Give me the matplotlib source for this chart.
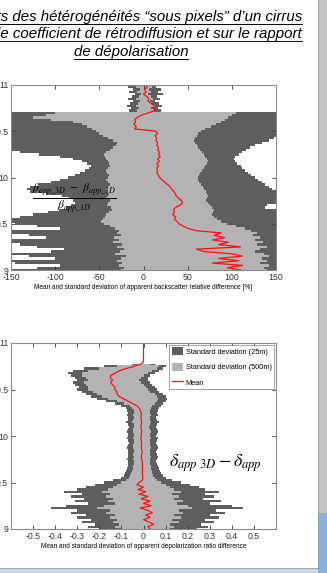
import matplotlib
matplotlib.use("Agg")
import numpy as np
from matplotlib import pyplot as plt
from matplotlib.patches import Rectangle
from matplotlib.lines import Line2D

plt.rcParams['axes.unicode_minus'] = False
nan = np.nan

# altitude grid (km), top to bottom, 25 m steps
alt = [11.000, 10.975, 10.950, 10.925, 10.900, 10.875, 10.850, 10.825, 10.800,
       10.775, 10.750, 10.725, 10.700, 10.675, 10.650, 10.625, 10.600, 10.575,
       10.550, 10.525, 10.500, 10.475, 10.450, 10.425, 10.400, 10.375, 10.350,
       10.325, 10.300, 10.275, 10.250, 10.225, 10.200, 10.175, 10.150, 10.125,
       10.100, 10.075, 10.050, 10.025, 10.000, 9.975, 9.950, 9.925, 9.900,
       9.875, 9.850, 9.825, 9.800, 9.775, 9.750, 9.725, 9.700, 9.675, 9.650,
       9.625, 9.600, 9.575, 9.550, 9.525, 9.500, 9.475, 9.450, 9.425, 9.400,
       9.375, 9.350, 9.325, 9.300, 9.275, 9.250, 9.225, 9.200, 9.175, 9.150,
       9.125, 9.100, 9.075, 9.050, 9.025, 9.000]

# backscatter relative difference [%]
bsc_mean = [2, 4, 1, 3, 0, 4, 6, 5, 9, 12, 11, 13, 6, -2, -7, -10, -9, -11,
            -8, -10, 14, 16, 13, 15, 14, 16, 15, 17, 16, 18, 17, 19, 16, 18,
            15, 17, 15, 16, 15, 17, 18, 21, 24, 27, 30, 32, 34, 36, 37, 40,
            43, 44, 41, 36, 34, 35, 33, 36, 35, 38, 40, 45, 50, 60, 88, 80,
            92, 78, 96, 85, 110, 60, 68, 100, 112, 85, 108, 78, 112, 95, 110]
bsc_25_lo = [-14, -18, -12, -16, -10, -13, -17, -12, -15, -19, -14, -16,
             -150, -150, -150, -150, -150, -150, -150, -150, -150, -150,
             -150, -150, -150, -150, -150, -150, -150, -140, -118, -95, -80,
             -70, -64, -60, -62, -66, -72, -78, -86, -95, -105, -118, -128,
             -132, -128, -110, -92, -84, -80, -78, -82, -88, -96, -108, -125,
             -140, -150, -150, -145, -120, -95, -150, -150, -130, -110, -150,
             -150, -140, -120, -90, -105, -150, -130, -100, -150, -145, -95,
             -120, -150]
bsc_25_hi = [18, 14, 20, 16, 22, 15, 19, 13, 17, 21, 16, 20,
             150, 150, 150, 150, 150, 150, 150, 150, 150, 150, 150, 148,
             142, 134, 126, 120, 116, 112, 108, 104, 102, 104, 106, 110,
             112, 115, 118, 122, 126, 130, 134, 138, 142, 146, 150, 150,
             150, 150, 150, 150, 140, 138, 150, 150, 150, 150, 150, 150,
             150, 150, 150, 150, 150, 150, 150, 150, 150, 150, 150, 150,
             150, 150, 150, 150, 150, 150, 150, 150, 150]
bsc_500_lo = [-6, -8, -4, -7, -3, -5, -8, -4, -6, -9, -5, -7,
              -100, -110, -125, -105, -80, -70, -64, -58, -54, -50, -46, -40,
              -34, -30, -31, -34, -38, -42, -45, -44, -42, -40, -39, -38,
              -40, -42, -41, -39, -40, -42, -40, -38, -40, -43, -41, -39,
              -40, -42, -38, -40, -41, -37, -36, -39, -42, -44, -46, -48,
              -45, -38, -32, -28, -30, -26, -33, -28, -35, -24, -30, -22,
              -27, -32, -20, -26, -30, -24, -28, -22, -26]
bsc_500_hi = [8, 10, 6, 9, 5, 8, 11, 7, 10, 13, 9, 12,
              105, 100, 96, 92, 88, 82, 76, 70, 65, 62, 60, 58,
              57, 58, 60, 62, 64, 66, 68, 70, 72, 73, 72, 70,
              68, 66, 64, 63, 62, 62, 63, 65, 67, 69, 71, 72,
              73, 72, 71, 73, 75, 78, 80, 79, 78, 80, 83, 88,
              95, 105, 115, 122, 128, 124, 132, 126, 135, 128, 140, 132,
              126, 136, 142, 134, 140, 132, 142, 136, 140]

# depolarization ratio difference
dep_mean = [0, 0, 0, 0, 0, 0, 0, 0, 0,
            -0.01, -0.04, -0.08, -0.11, -0.13, -0.15, -0.15, -0.14, -0.15,
            -0.14, -0.13, -0.13, -0.12, -0.12, -0.11, -0.09, -0.07, -0.05,
            -0.03, -0.02, -0.015, -0.01, -0.01, -0.012, -0.01, -0.008, -0.01,
            -0.012, -0.01, -0.008, -0.01, -0.01, -0.012, -0.01, -0.008, -0.01,
            -0.01, -0.008, -0.006, -0.008, -0.01, -0.008, -0.006, -0.005, -0.006,
            -0.004, -0.005, -0.006, -0.004, -0.003, -0.005, -0.02, -0.03, 0.0,
            -0.025, 0.01, -0.02, 0.02, -0.01, 0.03, 0.0, 0.035, -0.015, 0.02,
            0.04, 0.01, 0.03, 0.0, 0.025, 0.045, 0.02, 0.03]
dep_25_lo = [nan, nan, nan, nan, nan, nan, nan, nan, nan,
             -0.05, -0.18, -0.27, -0.32, -0.34, -0.33, -0.31, -0.30, -0.32,
             -0.31, -0.29, -0.30, -0.28, -0.26, -0.24, -0.21, -0.17, -0.13,
             -0.10, -0.08, -0.075, -0.07, -0.075, -0.068, -0.072, -0.078, -0.07,
             -0.065, -0.072, -0.076, -0.07, -0.068, -0.074, -0.07, -0.066, -0.072,
             -0.075, -0.07, -0.068, -0.072, -0.07, -0.074, -0.068, -0.07, -0.072,
             -0.076, -0.08, -0.085, -0.09, -0.10, -0.14, -0.18, -0.22, -0.26,
             -0.30, -0.36, -0.28, -0.33, -0.27, -0.31, -0.25, -0.35, -0.42, -0.30,
             -0.33, -0.26, -0.30, -0.24, -0.28, -0.22, -0.25, -0.20]
dep_25_hi = [nan, nan, nan, nan, nan, nan, nan, nan, nan,
             0.05, 0.10, 0.09, 0.07, 0.05, 0.03, 0.02, 0.02, 0.03,
             0.04, 0.05, 0.06, 0.07, 0.09, 0.10, 0.105, 0.10, 0.09,
             0.08, 0.07, 0.065, 0.06, 0.065, 0.058, 0.062, 0.068, 0.06,
             0.056, 0.063, 0.066, 0.06, 0.058, 0.064, 0.06, 0.057, 0.062,
             0.066, 0.06, 0.058, 0.061, 0.064, 0.06, 0.058, 0.062, 0.066,
             0.07, 0.075, 0.08, 0.09, 0.10, 0.13, 0.17, 0.21, 0.25,
             0.28, 0.34, 0.28, 0.32, 0.27, 0.35, 0.30, 0.40, 0.45, 0.33,
             0.37, 0.30, 0.34, 0.28, 0.32, 0.26, 0.29, 0.24]
dep_500_lo = [nan, nan, nan, nan, nan, nan, nan, nan, nan,
              -0.03, -0.12, -0.20, -0.25, -0.28, -0.28, -0.26, -0.25, -0.27,
              -0.26, -0.25, -0.25, -0.23, -0.21, -0.19, -0.16, -0.12, -0.09,
              -0.06, -0.05, -0.045, -0.045, -0.048, -0.044, -0.046, -0.05, -0.045,
              -0.042, -0.046, -0.048, -0.045, -0.044, -0.047, -0.045, -0.043, -0.046,
              -0.048, -0.045, -0.044, -0.046, -0.045, -0.047, -0.044, -0.045, -0.046,
              -0.048, -0.05, -0.055, -0.06, -0.065, -0.08, -0.10, -0.12, -0.14,
              -0.16, -0.19, -0.15, -0.17, -0.14, -0.16, -0.13, -0.18, -0.21, -0.15,
              -0.17, -0.13, -0.15, -0.12, -0.14, -0.11, -0.13, -0.10]
dep_500_hi = [nan, nan, nan, nan, nan, nan, nan, nan, nan,
              0.03, 0.07, 0.06, 0.04, 0.02, 0.0, -0.01, -0.02, -0.01,
              0.0, 0.01, 0.02, 0.03, 0.05, 0.06, 0.065, 0.06, 0.05,
              0.04, 0.035, 0.03, 0.03, 0.032, 0.028, 0.03, 0.034, 0.03,
              0.027, 0.031, 0.033, 0.03, 0.028, 0.032, 0.03, 0.029, 0.031,
              0.033, 0.03, 0.028, 0.03, 0.032, 0.03, 0.029, 0.031, 0.033,
              0.035, 0.038, 0.04, 0.045, 0.05, 0.06, 0.08, 0.10, 0.12,
              0.14, 0.17, 0.13, 0.16, 0.14, 0.18, 0.15, 0.20, 0.22, 0.16,
              0.18, 0.14, 0.17, 0.13, 0.16, 0.12, 0.14, 0.12]

DARK = '#5e5e5e'
LIGHT = '#b3b3b3'
RED = '#ff1010'
NARROW = ['Liberation Sans Narrow', 'Liberation Sans', 'DejaVu Sans']
ARIAL = ['Liberation Sans', 'DejaVu Sans']

W, H = 327, 573
fig = plt.figure(figsize=(W / 100, H / 100), dpi=100)
fig.patch.set_facecolor('white')


def px_axes(x0, y0, x1, y1):
    """Axes from pixel box (top-left origin)."""
    return fig.add_axes([x0 / W, 1 - y1 / H, (x1 - x0) / W, (y1 - y0) / H])


def style_axes(ax):
    ax.tick_params(direction='in', length=3, width=0.6, top=True, right=True,
                   labelsize=6.3, pad=2, colors='#333333')
    for lab in ax.get_xticklabels() + ax.get_yticklabels():
        lab.set_family(NARROW)
    for sp in ax.spines.values():
        sp.set_color('#8a8a8a')
        sp.set_linewidth(0.8)


# top panel: backscatter
ax1 = px_axes(11, 85, 276, 270)
ax1.fill_betweenx(alt, bsc_25_lo, bsc_25_hi, color=DARK, lw=0, step='mid')
ax1.fill_betweenx(alt, bsc_500_lo, bsc_500_hi, color=LIGHT, lw=0, step='mid')
ax1.plot(bsc_mean, alt, color=RED, lw=0.9)
ax1.set_xlim(-150, 150)
ax1.set_ylim(9, 11)
ax1.set_xticks([-150, -100, -50, 0, 50, 100, 150])
ax1.set_yticks([9, 9.5, 10, 10.5, 11])
ax1.set_yticklabels(['9', '9.5', '10', '10.5', '11'])
style_axes(ax1)
ax1.set_xlabel('Mean and standard deviation of apparent backscatter relative difference [%]',
               fontsize=4.7, family=NARROW, labelpad=1.5)
ax1.text(0.24, 0.39,
         r'$\frac{\beta_{app\_3D}\ -\ \beta_{app\_1D}}{\beta_{app\_1D}}$',
         transform=ax1.transAxes, ha='center', va='center', fontsize=12,
         math_fontfamily='stix')

# bottom panel: depolarization
ax2 = px_axes(11, 343, 276, 529)
ax2.fill_betweenx(alt, dep_25_lo, dep_25_hi, color=DARK, lw=0, step='mid',
                  label='Standard deviation (25m)')
ax2.fill_betweenx(alt, dep_500_lo, dep_500_hi, color=LIGHT, lw=0, step='mid',
                  label='Standard deviation (500m)')
ax2.plot(dep_mean, alt, color=RED, lw=0.9, label='Mean')
ax2.set_xlim(-0.6, 0.6)
ax2.set_ylim(9, 11)
ax2.set_xticks([-0.5, -0.4, -0.3, -0.2, -0.1, 0, 0.1, 0.2, 0.3, 0.4, 0.5])
ax2.set_xticklabels(['-0.5', '-0.4', '-0.3', '-0.2', '-0.1', '0',
                     '0.1', '0.2', '0.3', '0.4', '0.5'])
ax2.set_yticks([9, 9.5, 10, 10.5, 11])
ax2.set_yticklabels(['9', '9.5', '10', '10.5', '11'])
style_axes(ax2)
ax2.set_xlabel('Mean and standard deviation of apparent depolarization ratio difference',
               fontsize=4.7, family=NARROW, labelpad=1.5)
leg = ax2.legend(loc='upper right', frameon=True, fancybox=False,
                 borderaxespad=0.25, handlelength=1.6, handleheight=1.25,
                 labelspacing=0.95, borderpad=0.35, handletextpad=0.3,
                 prop={'family': NARROW, 'size': 5.3})
leg.get_frame().set_edgecolor('#777777')
leg.get_frame().set_linewidth(0.6)
ax2.text(0.77, 0.355, r'$\delta_{app\ 3D} - \delta_{app}$',
         transform=ax2.transAxes, ha='center', va='center', fontsize=13,
         math_fontfamily='stix')

# slide title
t1 = fig.text(302 / W, 1 - 17 / H,
              'Effets des hétérogénéités \u201csous pixels\u201d d\u2019un cirrus',
              ha='right', va='center', fontsize=10.8, style='italic', family=ARIAL)
t2 = fig.text(302 / W, 1 - 34 / H,
              'sur le coefficient de rétrodiffusion et sur le rapport',
              ha='right', va='center', fontsize=10.8, style='italic', family=ARIAL)
t3 = fig.text(131 / W, 1 - 52 / H, 'de dépolarisation',
              ha='center', va='center', fontsize=10.8, style='italic', family=ARIAL)

# slide frame bits: grey scroll bar and blue strip at the bottom
fig.add_artist(Rectangle((318 / W, 1 - 513 / H), 9 / W, 513 / H,
                         transform=fig.transFigure, color='#c4c4c4', lw=0))
fig.add_artist(Rectangle((318 / W, 0), 9 / W, 60 / H,
                         transform=fig.transFigure, color='#86b2df', lw=0))
fig.add_artist(Rectangle((0, 0), 318 / W, 5 / H,
                         transform=fig.transFigure, color='#c9d8ea', lw=0))
fig.add_artist(Line2D([317.5 / W, 317.5 / W], [5 / H, 1],
                      transform=fig.transFigure, color='#9a9a9a', lw=0.6))
fig.add_artist(Line2D([0, 317.5 / W], [5 / H, 5 / H],
                      transform=fig.transFigure, color='#9a9a9a', lw=0.6))

# underline title lines
fig.canvas.draw()
rend = fig.canvas.get_renderer()
for t in (t1, t2, t3):
    bb = t.get_window_extent(rend)
    y = (bb.y0 + 0.5) / H
    fig.add_artist(Line2D([max(bb.x0, 0) / W, bb.x1 / W], [y, y],
                          transform=fig.transFigure, color='black', lw=0.7))

fig.savefig('out.png', dpi=100)
